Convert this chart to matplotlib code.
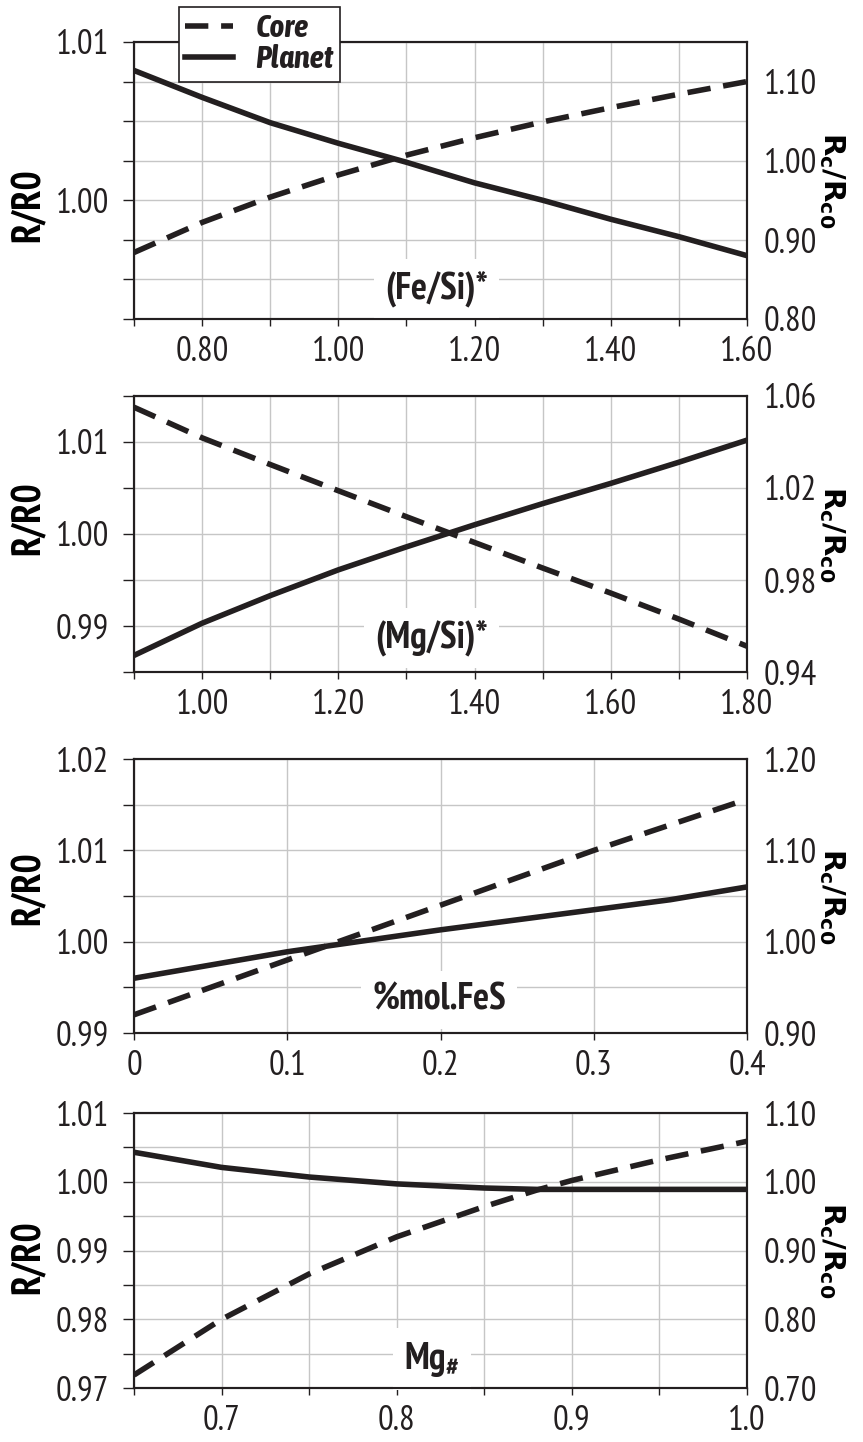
import numpy as np
import matplotlib
matplotlib.use("Agg")
import matplotlib.pyplot as plt
from matplotlib import font_manager
from matplotlib.lines import Line2D
from matplotlib.ticker import MultipleLocator, FormatStrFormatter, FuncFormatter

# values
# (Fe/Si)* panel
fesi_x = [0.7, 0.8, 0.9, 1.0, 1.1, 1.2, 1.3, 1.4, 1.5, 1.6]
fesi_planet = [1.0082, 1.0065, 1.0049, 1.0036, 1.0024, 1.0011, 1.0000, 0.9988, 0.9977, 0.9965]
fesi_core = [0.884, 0.922, 0.954, 0.982, 1.007, 1.029, 1.049, 1.067, 1.084, 1.100]

# (Mg/Si)* panel
mgsi_x = [0.9, 1.0, 1.1, 1.2, 1.3, 1.4, 1.5, 1.6, 1.7, 1.8]
mgsi_planet = [0.9868, 0.9903, 0.9933, 0.9961, 0.9986, 1.0010, 1.0033, 1.0055, 1.0078, 1.0102]
mgsi_core = [1.0551, 1.0418, 1.0302, 1.0188, 1.0075, 0.9963, 0.9852, 0.9743, 0.9630, 0.9512]

# %mol.FeS panel
fes_x = [0.0, 0.1, 0.2, 0.3, 0.35, 0.4]
fes_planet = [0.9960, 0.9989, 1.0013, 1.0035, 1.0046, 1.0060]
fes_core = [0.920, 0.980, 1.040, 1.100, 1.128, 1.156]

# Mg# panel
mg_x = [0.65, 0.70, 0.75, 0.80, 0.85, 0.88, 0.90, 0.95, 1.00]
mg_planet = [1.0043, 1.0021, 1.0007, 0.9997, 0.9991, 0.9989, 0.9989, 0.9989, 0.9989]
mg_core = [0.719, 0.800, 0.866, 0.920, 0.964, 0.988, 1.002, 1.032, 1.059]

legend_labels = ["Core", "Planet"]

INK = "#231f20"
GRID = "#c6c6c6"

names = {f.name for f in font_manager.fontManager.ttflist}


def first(*fams):
    for f in fams:
        if f in names:
            return f
    return "DejaVu Sans"


NARROW = first("PT Sans Narrow", "Asap Condensed", "Barlow Semi Condensed", "Liberation Sans")
ITAL = first("Asap Condensed", "Barlow Semi Condensed", "PT Sans", "Liberation Sans")
plt.rcParams["font.family"] = [NARROW, "DejaVu Sans"]
plt.rcParams["text.color"] = INK

fig = plt.figure(figsize=(8.63, 14.42), dpi=100)

LW = 4.0
DASH = (4.2, 2.3)


def panel(rect, x, planet, core, xlim, xlab, xminor, xfmt,
          ylim, yminor, y2lim, y2ticks, name, name_xy, ylab_y):
    ax = fig.add_axes(rect)
    ax2 = ax.twinx()
    ax.plot(x, planet, color=INK, lw=LW)
    ax2.plot(x, core, color=INK, lw=LW, dashes=DASH)

    ax.set_xlim(*xlim)
    ax.set_ylim(*ylim)
    ax2.set_ylim(*y2lim)

    ax.xaxis.set_major_locator(MultipleLocator(xlab))
    if xminor:
        ax.xaxis.set_minor_locator(MultipleLocator(xminor))
    ax.xaxis.set_major_formatter(xfmt)
    ax.yaxis.set_major_locator(MultipleLocator(0.01))
    ax.yaxis.set_minor_locator(MultipleLocator(yminor))
    ax.yaxis.set_major_formatter(FormatStrFormatter("%.2f"))
    ax2.set_yticks(y2ticks)
    ax2.yaxis.set_major_formatter(FormatStrFormatter("%.2f"))

    ax.grid(True, which="both", color=GRID, lw=1.0)
    ax.tick_params(axis="y", which="both", direction="out", length=8, width=1,
                   color=INK, labelcolor=INK, labelsize=25, pad=10)
    ax.tick_params(axis="x", which="both", direction="out", length=5, width=1,
                   color=INK, labelcolor=INK, labelsize=25, pad=7)
    ax2.tick_params(axis="y", which="both", length=0, labelcolor=INK,
                    labelsize=25, pad=12)
    for a in (ax, ax2):
        for s in a.spines.values():
            s.set_linewidth(1.5)
            s.set_color(INK)

    ax.text(name_xy[0], name_xy[1], name, transform=ax.transAxes,
            ha="center", va="center", fontsize=27, fontweight="bold",
            bbox=dict(boxstyle="square,pad=0.3", facecolor="white", edgecolor="none"),
            zorder=4)

    ax.set_ylabel("R/R0", fontsize=29, fontweight="bold", ha="center", va="center")
    ax.yaxis.set_label_coords(-0.171, ylab_y)
    ax2.set_ylabel(r"R$_\mathregular{c}$/R$_\mathregular{c0}$", family="DejaVu Sans",
                   fontsize=21, fontweight="bold", rotation=270, ha="center", va="center")
    ax2.yaxis.set_label_coords(1.139, 0.5)
    return ax, ax2


L, W = 134 / 863, 613 / 863
two = FormatStrFormatter("%.2f")
one = FormatStrFormatter("%.1f")
zero_one = FuncFormatter(lambda v, p: "0" if abs(v) < 1e-9 else f"{v:.1f}")

panel([L, 0.7788, W, 0.1921], fesi_x, fesi_planet, fesi_core,
      (0.7, 1.6), 0.2, 0.1, two, (0.9925, 1.01), 0.0025,
      (0.80, 1.15), np.arange(0.8, 1.15, 0.1), "(Fe/Si)*", (0.493, 0.11), 0.41)

panel([L, 0.5340, W, 0.1914], mgsi_x, mgsi_planet, mgsi_core,
      (0.9, 1.8), 0.2, 0.1, two, (0.985, 1.015), 0.005,
      (0.94, 1.06), np.arange(0.94, 1.07, 0.04), "(Mg/Si)*", (0.486, 0.123), 0.558)

panel([L, 0.2836, W, 0.1900], fes_x, fes_planet, fes_core,
      (0.0, 0.4), 0.1, None, zero_one, (0.99, 1.02), 0.005,
      (0.90, 1.20), np.arange(0.9, 1.21, 0.1), "%mol.FeS", (0.498, 0.12), 0.529)

panel([L, 0.0374, W, 0.1907], mg_x, mg_planet, mg_core,
      (0.65, 1.0), 0.1, 0.05, one, (0.97, 1.01), 0.005,
      (0.70, 1.10), np.arange(0.7, 1.11, 0.1), r"Mg$_\mathregular{\#}$", (0.486, 0.105), 0.476)

handles = [Line2D([], [], color=INK, lw=LW, dashes=DASH),
           Line2D([], [], color=INK, lw=LW)]
leg = fig.legend(handles, legend_labels, loc="upper left",
                 bbox_to_anchor=(179 / 863, 1 - 7 / 1442), borderaxespad=0,
                 prop=dict(family=ITAL, weight="bold", style="italic", size=23),
                 frameon=True, fancybox=False, framealpha=1, edgecolor=INK,
                 borderpad=0.2, handlelength=1.5, handletextpad=0.7, labelspacing=0.0)
leg.get_frame().set_linewidth(1.2)

fig.savefig("out.png", dpi=100)
